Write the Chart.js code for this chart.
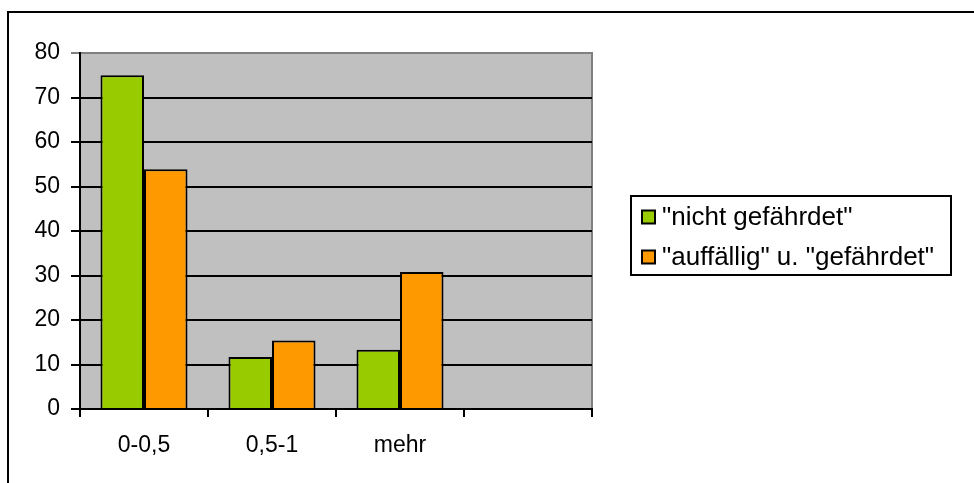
<!DOCTYPE html>
<html>
<head>
<meta charset="utf-8">
<script src="https://cdn.jsdelivr.net/npm/chart.js@4.4.1/dist/chart.umd.min.js"></script>
<style>
  body { margin: 0; background: #fff; }
  #wrap { width: 974px; height: 483px; }
</style>
</head>
<body>
<div id="wrap"><canvas id="barChart" width="974" height="483"></canvas></div>
<script>
  // Gruppen und Anteile
  var kategorien = ['0-0,5', '0,5-1', 'mehr', ''];
  var nichtGefaehrdet = [75, 11.7, 13.3, null];
  var auffaelligGefaehrdet = [53.9, 15.4, 30.8, null];
  var yTicks = [0, 10, 20, 30, 40, 50, 60, 70, 80];

  var achsenSchrift = { family: 'Liberation Sans, Arial, sans-serif', size: 23 };
  var legendenSchrift = { family: 'Liberation Sans, Arial, sans-serif', size: 26 };

  // grauer Hintergrund im Diagrammbereich + Rahmen oben/rechts
  var plotFlaeche = {
    id: 'plotFlaeche',
    beforeDraw: function (chart) {
      var c = chart.ctx, a = chart.chartArea;
      c.save();
      c.fillStyle = '#c0c0c0';
      c.fillRect(a.left, a.top, a.right - a.left, a.bottom - a.top);
      c.strokeStyle = '#808080';
      c.lineWidth = 2;
      c.beginPath();
      c.moveTo(a.left, a.top);
      c.lineTo(a.right, a.top);
      c.lineTo(a.right, a.bottom);
      c.stroke();
      c.restore();
    },
    afterDraw: function (chart) {
      var c = chart.ctx;
      c.save();
      c.strokeStyle = '#000';
      c.lineWidth = 2;
      // äusserer Rahmen
      c.strokeRect(8, 12, 2000, 2000);
      c.restore();
    }
  };

  // Legende rechts mit Rahmen
  var legendeBox = {
    id: 'legendeBox',
    afterDraw: function (chart) {
      var c = chart.ctx;
      var x = 631, y = 196, w = 320, h = 79;
      c.save();
      c.fillStyle = '#fff';
      c.fillRect(x, y, w, h);
      c.strokeStyle = '#000';
      c.lineWidth = 2;
      c.strokeRect(x, y, w, h);
      c.font = legendenSchrift.size + 'px ' + legendenSchrift.family;
      c.textBaseline = 'middle';
      var ds = chart.data.datasets;
      for (var i = 0; i < ds.length; i++) {
        var mitte = y + 21 + i * 40;
        c.fillStyle = ds[i].backgroundColor;
        c.fillRect(x + 11, mitte - 6.5, 13, 13);
        c.lineWidth = 2;
        c.strokeRect(x + 11, mitte - 6.5, 13, 13);
        c.fillStyle = '#000';
        c.fillText(ds[i].label, x + 31, mitte + 1);
      }
      c.restore();
    }
  };

  var ctx = document.getElementById('barChart').getContext('2d');
  new Chart(ctx, {
    type: 'bar',
    data: {
      labels: kategorien,
      datasets: [
        {
          label: '"nicht gefährdet"',
          data: nichtGefaehrdet,
          backgroundColor: '#99cc00',
          borderColor: '#000',
          borderWidth: 2
        },
        {
          label: '"auffällig" u. "gefährdet"',
          data: auffaelligGefaehrdet,
          backgroundColor: '#ff9900',
          borderColor: '#000',
          borderWidth: 2
        }
      ]
    },
    options: {
      responsive: false,
      animation: false,
      categoryPercentage: 0.68,
      barPercentage: 1.0,
      layout: { padding: { top: 53, right: 382, left: 0, bottom: 0 } },
      plugins: {
        tooltip: { enabled: false },
        legend: { display: false }
      },
      scales: {
        x: {
          grid: {
            offset: true,
            drawOnChartArea: false,
            color: '#000',
            lineWidth: 2,
            tickLength: 8
          },
          border: { color: '#000', width: 2 },
          ticks: { color: '#000', font: achsenSchrift, padding: 15, maxRotation: 0 },
          afterFit: function (scale) { scale.height = 74; }
        },
        y: {
          min: 0,
          max: 80,
          afterBuildTicks: function (scale) {
            scale.ticks = yTicks.map(function (v) { return { value: v }; });
          },
          grid: {
            color: function (c) { return c.tick && c.tick.value === 80 ? '#808080' : '#000'; },
            lineWidth: 2,
            tickLength: 9
          },
          border: { color: '#000', width: 2 },
          ticks: { color: '#000', font: achsenSchrift, padding: 11 },
          afterFit: function (scale) { scale.width = 80; }
        }
      }
    },
    plugins: [plotFlaeche, legendeBox]
  });
</script>
</body>
</html>
